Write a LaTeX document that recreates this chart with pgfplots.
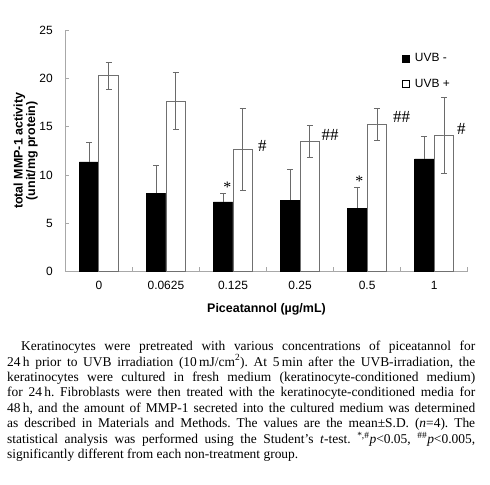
\documentclass[border=0pt]{standalone}
\usepackage{fontspec}
\setmainfont{Liberation Sans}
\newfontfamily\capfont{Liberation Serif}
\usepackage{pgfplots}
\pgfplotsset{compat=1.18}
\definecolor{axgray}{HTML}{A8A8A8}
\definecolor{errgray}{HTML}{6A6A6A}
\definecolor{outgray}{HTML}{707070}
\begin{document}
\begin{tikzpicture}
\path[use as bounding box] (0,0) rectangle (490bp,485bp);
\begin{axis}[
  at={(65.3bp,213.5bp)}, anchor=south west,
  scale only axis, width=402.4bp, height=241.4bp,
  xmin=-0.5, xmax=5.5, ymin=0, ymax=25,
  ybar=0pt, bar width=19.5bp,
  axis x line=bottom, axis y line=left,
  axis line style={-, draw=axgray, line width=0.8pt},
  xtick={0,1,2,3,4,5},
  xticklabels={0,0.0625,0.125,0.25,0.5,1},
  minor xtick={0.5,1.5,2.5,3.5,4.5,5.5},
  ytick={0,5,10,15,20,25},
  tick align=inside,
  major x tick style={draw=none},
  minor tick style={draw=axgray, line width=0.6pt},
  major tick style={draw=axgray, line width=0.6pt},
  major tick length=4bp, minor tick length=4bp,
  /pgf/number format/assume math mode=true,
  tick label style={font=\fontsize{12}{14}\selectfont},
  xticklabel style={yshift=-6bp},
  yticklabel style={xshift=-9bp},
  xlabel={Piceatannol (\textmu g/mL)},
  ylabel={total MMP-1 activity\\(unit/mg protein)},
  every axis x label/.style={at={(axis description cs:0.5,0)}, anchor=base, yshift=-41bp, font=\bfseries\fontsize{12.5}{13}\selectfont},
  every axis y label/.style={at={(axis description cs:-0.0987,0.5)}, rotate=90, anchor=center, align=center, font=\bfseries\fontsize{12.5}{12.5}\selectfont},
  legend style={at={(rel axis cs:0.835,0.912)}, anchor=north west, draw=none, fill=none, font=\fontsize{12}{13}\selectfont, row sep=12bp, inner sep=0pt,
     /tikz/every odd column/.append style={column sep=4bp}},
  legend cell align=left,
  error bars/error bar style={draw=errgray, line width=0.7pt},
  error bars/error mark options={rotate=90, mark size=3bp, draw=errgray, line width=0.7pt},
]
\addplot[fill=black, draw=black,
  legend image code/.code={\draw[fill=black,draw=black] (0bp,-3.5bp) rectangle (7bp,3.5bp);},
  error bars/.cd, y dir=plus, y explicit]
  coordinates {
    (0,11.36) +- (0,2.04)
    (1,8.08)  +- (0,2.87)
    (2,7.22)  +- (0,0.89)
    (3,7.39)  +- (0,3.21)
    (4,6.56)  +- (0,2.11)
    (5,11.67) +- (0,2.31)
  };
\addlegendentry{UVB -}
\addplot[fill=white, draw=outgray, line width=0.8pt,
  legend image code/.code={\draw[fill=white,draw=black,line width=0.5pt] (0bp,-3.5bp) rectangle (7bp,3.5bp);},
  error bars/.cd, y dir=both, y explicit]
  coordinates {
    (0,20.27) +- (0,1.42)
    (1,17.65) +- (0,2.95)
    (2,12.67) +- (0,4.23)
    (3,13.47) +- (0,1.66)
    (4,15.23) +- (0,1.66)
    (5,14.09) +- (0,3.93)
  };
\addlegendentry{UVB +}
\node[font=\capfont\fontsize{16}{16}\selectfont] at (axis cs:1.915,8.7) {*};
\node[font=\capfont\fontsize{16}{16}\selectfont] at (axis cs:3.884,9.3) {*};
\node[font=\capfont\fontsize{17}{17}\selectfont] at (axis cs:2.437,12.95) {\#};
\node[font=\capfont\fontsize{17}{17}\selectfont] at (axis cs:3.447,14.16) {\#\#};
\node[font=\capfont\fontsize{17}{17}\selectfont] at (axis cs:4.516,15.99) {\#\#};
\node[font=\capfont\fontsize{17}{17}\selectfont] at (axis cs:5.404,14.75) {\#};
\end{axis}
\node[anchor=north west, inner sep=0pt, text width=468bp, align=justify,
      font=\capfont\fontsize{13.5}{15.5}\selectfont] at (7bp,144bp)
{\frenchspacing\hspace*{14bp}Keratinocytes were pretreated with various concentrations of piceatannol for\linebreak
24\,h prior to UVB irradiation (10\,mJ/cm\textsuperscript{2}). At 5\,min after the UVB-irradiation, the\linebreak
keratinocytes were cultured in fresh medium (keratinocyte-conditioned medium)\linebreak
for 24\,h. Fibroblasts were then treated with the keratinocyte-conditioned media for\linebreak
48\,h, and the amount of MMP-1 secreted into the cultured medium was determined\linebreak
as described in Materials and Methods. The values are the mean±S.D. (\textit{n}=4). The\linebreak
statistical analysis was performed using the Student’s \textit{t}-test. \textsuperscript{*,\#}\textit{p}<0.05, \textsuperscript{\#\#}\textit{p}<0.005,\linebreak
significantly different from each non-treatment group.\par};
\end{tikzpicture}
\end{document}
